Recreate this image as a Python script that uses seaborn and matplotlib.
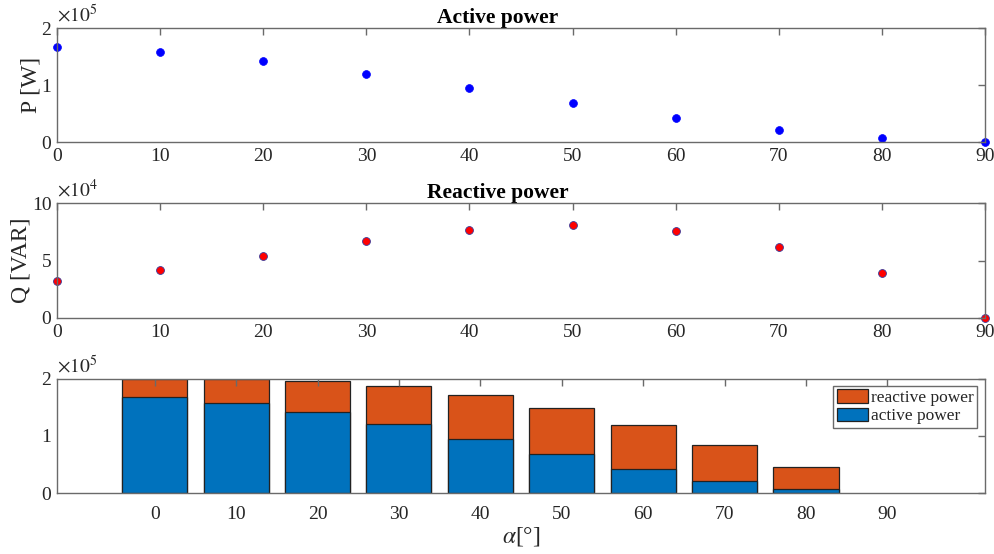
import matplotlib
matplotlib.use("Agg")
import matplotlib.pyplot as plt
import seaborn as sns
import pandas as pd
import numpy as np

sns.set_theme(style="white")
plt.rcParams['font.family'] = ['Liberation Serif', 'DejaVu Serif']
plt.rcParams['mathtext.fontset'] = 'stix'

# ---- data ----
angles = [0, 10, 20, 30, 40, 50, 60, 70, 80, 90]
active_power = [1.675e5, 1.585e5, 1.425e5, 1.205e5, 0.945e5, 0.685e5, 0.425e5, 0.215e5, 0.075e5, 0.0]
reactive_power = [3.25e4, 4.15e4, 5.4e4, 6.75e4, 7.7e4, 8.1e4, 7.6e4, 6.2e4, 3.9e4, 0.0]
angle_labels = [str(a) for a in angles]

df = pd.DataFrame({"angle": angles, "P": active_power, "Q": reactive_power,
                   "label": angle_labels})
df["total"] = df["P"] + df["Q"]

AX_COL = '#6a6a6a'
TXT_COL = '#262626'
BLUE_BAR = '#0072BD'
ORANGE_BAR = '#D95319'

fig = plt.figure(figsize=(9.95, 5.54), dpi=100)
L, R = 0.0573, 0.990
ax1 = fig.add_axes([L, 0.743, R - L, 0.949 - 0.743])
ax2 = fig.add_axes([L, 0.426, R - L, 0.633 - 0.426])
ax3 = fig.add_axes([L, 0.110, R - L, 0.316 - 0.110])
TITLE_X = 0.475


def style(ax):
    for s in ax.spines.values():
        s.set_color(AX_COL)
        s.set_linewidth(1.0)
        s.set_visible(True)
        s.set_zorder(10)
    ax.tick_params(direction='in', length=5, width=1.0, color=AX_COL,
                   labelcolor=TXT_COL, labelsize=14, top=True, right=True,
                   pad=4)
    ax.grid(False)
    ax.set_axisbelow(False)


# --- Active power ---
sns.scatterplot(data=df, x="angle", y="P", ax=ax1, color='#0000FF',
                edgecolor='#0000FF', s=32, linewidth=0.5, clip_on=False, zorder=5)
ax1.set_xlim(0, 90)
ax1.set_ylim(0, 2e5)
ax1.set_xticks(angles)
ax1.set_yticks([0, 1e5, 2e5])
ax1.set_yticklabels(['0', '1', '2'])
ax1.set_xlabel('')
ax1.set_ylabel('P [W]', fontsize=17, color=TXT_COL, labelpad=0)
ax1.set_title('Active power', fontsize=15.5, fontweight='bold', color='black',
              pad=4, x=TITLE_X)
ax1.text(0.0, 1.02, r'$\times10^{5}$', transform=ax1.transAxes, fontsize=14,
         color=TXT_COL, ha='left', va='bottom')
style(ax1)

# --- Reactive power ---
sns.scatterplot(data=df, x="angle", y="Q", ax=ax2, color='#FF0000',
                edgecolor='#3a3a9a', s=32, linewidth=0.6, clip_on=False, zorder=5)
ax2.set_xlim(0, 90)
ax2.set_ylim(0, 1e5)
ax2.set_xticks(angles)
ax2.set_yticks([0, 5e4, 1e5])
ax2.set_yticklabels(['0', '5', '10'])
ax2.set_xlabel('')
ax2.set_ylabel('Q [VAR]', fontsize=17, color=TXT_COL, labelpad=0)
ax2.set_title('Reactive power', fontsize=15.5, fontweight='bold', color='black',
              pad=4, x=TITLE_X)
ax2.text(0.0, 1.02, r'$\times10^{4}$', transform=ax2.transAxes, fontsize=14,
         color=TXT_COL, ha='left', va='bottom')
style(ax2)

# --- Stacked bars ---
sns.barplot(data=df, x="label", y="total", ax=ax3, color=ORANGE_BAR,
            saturation=1, width=0.8, edgecolor='#222222', linewidth=0.9,
            label='reactive power', order=angle_labels)
sns.barplot(data=df, x="label", y="P", ax=ax3, color=BLUE_BAR,
            saturation=1, width=0.8, edgecolor='#222222', linewidth=0.9,
            label='active power', order=angle_labels)
for p in ax3.patches:
    if p.get_height() == 0:
        p.set_linewidth(0)
ax3.set_xlim(-1.2, 9 + 1.2)
ax3.set_ylim(0, 2e5)
ax3.set_yticks([0, 1e5, 2e5])
ax3.set_yticklabels(['0', '1', '2'])
ax3.set_ylabel('')
ax3.set_xlabel(r'$\alpha$[°]', fontsize=17, color=TXT_COL, labelpad=2)
ax3.text(0.0, 1.02, r'$\times10^{5}$', transform=ax3.transAxes, fontsize=14,
         color=TXT_COL, ha='left', va='bottom')
style(ax3)
ax3.tick_params(axis='x', pad=9)

leg = ax3.legend(loc='upper right', bbox_to_anchor=(0.995, 0.97), fontsize=12.5,
                 frameon=True, fancybox=False, framealpha=1, edgecolor=AX_COL,
                 handlelength=1.8, handleheight=0.8, handletextpad=0.15,
                 labelspacing=0.1, borderpad=0.2, borderaxespad=0.2)
leg.get_frame().set_linewidth(1.0)
leg.set_zorder(20)

fig.savefig('out.png', dpi=100)
